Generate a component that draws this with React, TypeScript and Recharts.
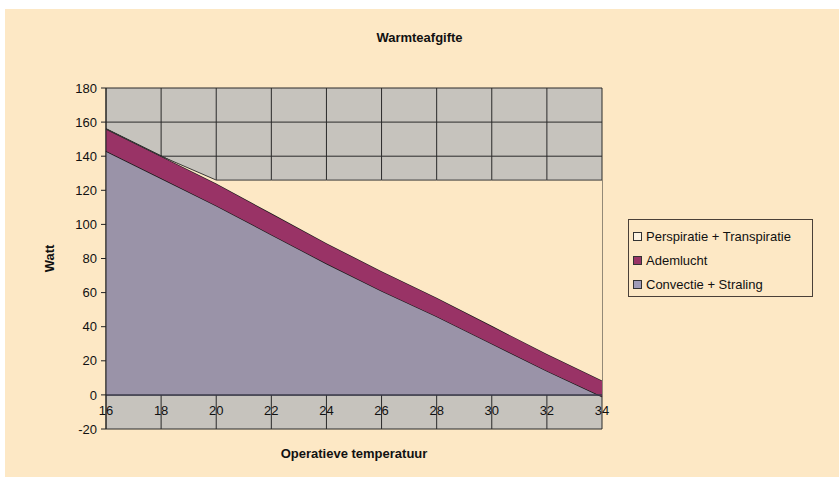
import { AreaChart, Area, XAxis, YAxis, CartesianGrid, ReferenceLine } from 'recharts';

const temperatures = [16, 18, 20, 22, 24, 26, 28, 30, 32, 34];
const convectie = [143, 127, 111, 94, 77, 61, 46, 30, 14, -1];
const ademlucht = [13, 13, 13, 12.5, 12, 11.5, 11, 10.5, 10, 9.5];
const perspiratie = [0, 0, 2, 19.5, 37, 53.5, 69, 85.5, 102, 117.5];

const xTicks = [16, 18, 20, 22, 24, 26, 28, 30, 32, 34];
const yTicks = [-20, 0, 20, 40, 60, 80, 100, 120, 140, 160, 180];

const data = temperatures.map((t, i) => ({
  t,
  convectie: convectie[i],
  ademlucht: ademlucht[i],
  perspiratie: perspiratie[i],
}));

const FONT = "'Liberation Sans', Arial, sans-serif";
const BG = '#fde8c5';

const legendItems = [
  { label: 'Perspiratie + Transpiratie', color: '#fdf3e2' },
  { label: 'Ademlucht', color: '#993366' },
  { label: 'Convectie + Straling', color: '#a09cb8' },
];

function LegendBox() {
  return (
    <div
      style={{
        position: 'absolute',
        left: 628,
        top: 219,
        width: 185,
        height: 78,
        border: '1px solid #4a4038',
        background: BG,
        fontFamily: FONT,
        fontSize: 13,
        color: '#111',
        boxSizing: 'border-box',
        paddingTop: 4,
      }}
    >
      {legendItems.map((it) => (
        <div key={it.label} style={{ display: 'flex', alignItems: 'center', height: 24, paddingLeft: 4 }}>
          <span
            style={{
              display: 'inline-block',
              width: 7,
              height: 7,
              background: it.color,
              border: '1px solid #333',
              marginRight: 4,
            }}
          />
          <span style={{ whiteSpace: 'nowrap' }}>{it.label}</span>
        </div>
      ))}
    </div>
  );
}

function XTick(props: any) {
  const { x, y, payload } = props;
  return (
    <text x={x} y={y - 22} textAnchor="middle" fontFamily={FONT} fontSize={13} fill="#111">
      {payload.value}
    </text>
  );
}

export default function App() {
  return (
    <div style={{ position: 'absolute', left: 0, top: 0, width: 839, height: 477, background: '#fff' }}>
      <div style={{ position: 'absolute', left: 5, top: 9, width: 834, height: 468, background: BG }} />
      <div
        style={{
          position: 'absolute',
          left: 0,
          top: 30,
          width: 839,
          textAlign: 'center',
          fontFamily: FONT,
          fontWeight: 'bold',
          fontSize: 13,
          color: '#111',
        }}
      >
        Warmteafgifte
      </div>
      <div style={{ position: 'absolute', left: 0, top: 0 }}>
        <AreaChart
          width={839}
          height={477}
          data={data}
          margin={{ top: 88, right: 237, left: 0, bottom: 18 }}
        >
          <CartesianGrid fill="#c6c3bd" fillOpacity={1} stroke="#2a2a2a" strokeWidth={1} />
          <XAxis
            dataKey="t"
            type="number"
            domain={[16, 34]}
            ticks={xTicks}
            axisLine={false}
            tickLine={false}
            height={30}
            tick={<XTick />}
            label={{
              value: 'Operatieve temperatuur',
              position: 'insideBottom',
              offset: 1,
              style: { fontFamily: FONT, fontWeight: 'bold', fontSize: 13, fill: '#111' },
            }}
          />
          <YAxis
            type="number"
            domain={[-20, 180]}
            ticks={yTicks}
            width={106}
            stroke="#222"
            tickSize={5}
            tickMargin={4}
            tick={{ fontFamily: FONT, fontSize: 13, fill: '#111' }}
            label={{
              value: 'Watt',
              angle: -90,
              position: 'insideLeft',
              offset: 49,
              style: { fontFamily: FONT, fontWeight: 'bold', fontSize: 13, fill: '#111', textAnchor: 'middle' },
            }}
          />
          <Area
            type="linear"
            dataKey="convectie"
            stackId="1"
            fill="#9a93a8"
            fillOpacity={1}
            stroke="#1a1a1a"
            strokeWidth={1.3}
            isAnimationActive={false}
          />
          <Area
            type="linear"
            dataKey="ademlucht"
            stackId="1"
            fill="#993366"
            fillOpacity={1}
            stroke="#1a1a1a"
            strokeWidth={1.3}
            isAnimationActive={false}
          />
          <Area
            type="linear"
            dataKey="perspiratie"
            stackId="1"
            fill={BG}
            fillOpacity={1}
            stroke="#3a3a3a"
            strokeWidth={1}
            isAnimationActive={false}
          />
          <ReferenceLine y={0} stroke="#3a3a4a" strokeWidth={1.5} />
        </AreaChart>
      </div>
      <LegendBox />
    </div>
  );
}
